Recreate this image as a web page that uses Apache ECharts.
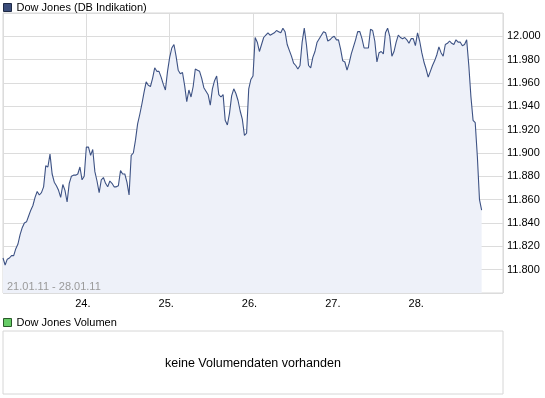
<!DOCTYPE html>
<html>
<head>
<meta charset="utf-8">
<script src="https://cdn.jsdelivr.net/npm/echarts@6/dist/echarts.min.js"></script>
<style>
    html, body { margin: 0; padding: 0; background: #fff; }
    #chart_dow { width: 545px; height: 398px; }
</style>
</head>
<body>
<div id="chart_dow"></div>
<script>
// Dow Jones 21.01.11 - 28.01.11, 10-Minuten-Werte (39 pro Handelstag)
var dayLabels = ['24.', '25.', '26.', '27.', '28.'];
var barsPerDay = 39;
var tradingDays = 6;
var prices = [
    // 21.01.
    11810, 11804, 11809, 11810, 11812, 11812, 11818, 11822, 11830, 11836,
    11840, 11841, 11846, 11851, 11855, 11862, 11867, 11864, 11866, 11871,
    11889, 11888, 11899, 11882, 11875, 11872, 11868, 11862, 11873, 11868,
    11858, 11874, 11880, 11881, 11881, 11882, 11888, 11877, 11880,
    // 24.01.
    11905, 11905, 11898, 11903, 11884, 11876, 11866, 11877, 11879, 11874,
    11871, 11876, 11874, 11871, 11871, 11872, 11885, 11882, 11882, 11875,
    11864, 11898, 11900, 11911, 11925, 11933, 11942, 11952, 11961, 11958,
    11957, 11964, 11973, 11970, 11970, 11965, 11959, 11954, 11970,
    // 25.01.
    11982, 11990, 11993, 11983, 11971, 11968, 11969, 11958, 11944, 11954,
    11948, 11957, 11972, 11971, 11970, 11964, 11956, 11953, 11950, 11941,
    11955, 11962, 11966, 11950, 11948, 11950, 11928, 11924, 11934, 11949,
    11955, 11951, 11945, 11936, 11929, 11915, 11917, 11955, 11963,
    // 26.01.
    11966, 11999, 11995, 11987, 11993, 11999, 12001, 12003, 12001, 12002,
    12003, 12005, 12004, 12003, 12007, 12004, 11993, 11988, 11983, 11977,
    11975, 11972, 11975, 11995, 12007, 11993, 11975, 11973, 11982, 11987,
    11995, 11998, 12001, 12004, 12003, 11996, 11997, 11999, 12000,
    // 27.01.
    11997, 11997, 11989, 11979, 11978, 11971, 11977, 11985, 11991, 11997,
    12004, 12004, 11998, 11990, 11990, 11990, 12006, 12005, 11996, 11978,
    11986, 11987, 11985, 12003, 12007, 12000, 11983, 11987, 11995, 12001,
    11999, 11998, 11999, 11997, 11994, 11998, 11998, 11992, 12003,
    // 28.01.
    11996, 11986, 11978, 11972, 11965, 11970, 11975, 11979, 11984, 11991,
    11986, 11983, 11993, 11994, 11996, 11994, 11993, 11997, 11995, 11995,
    11992, 11993, 11997, 11975, 11948, 11928, 11926, 11897, 11860, 11851
];
var volumes = []; // keine Volumendaten vorhanden

(function () {
    "use strict";
    var dom = document.getElementById("chart_dow");
    var myChart = echarts.init(dom);
    var font = "'Liberation Sans', Arial, sans-serif";

    var priceData = [];
    for (var i in prices) {
        priceData.push([Number(i), prices[i]]);
    }

    var option = {
        animation: false,
        textStyle: { fontFamily: font },
        title: [
            {
                text: '21.01.11 - 28.01.11',
                left: 7, top: 281, padding: 0,
                textStyle: { fontSize: 11, fontWeight: 'normal', color: '#9a9a9a', fontFamily: font }
            },
            {
                text: 'keine Volumendaten vorhanden',
                left: 165, top: 357, padding: 0,
                textStyle: { fontSize: 12.5, fontWeight: 'normal', color: '#000', fontFamily: font }
            }
        ],
        legend: [
            {
                data: [{ name: 'Dow Jones (DB Indikation)', icon: 'rect' }],
                left: 3, top: 2, padding: 0,
                itemWidth: 8, itemHeight: 8,
                selectedMode: false,
                itemStyle: { color: '#3b4d7a', borderColor: '#1f2a45', borderWidth: 1 },
                textStyle: { fontSize: 11, color: '#000', fontFamily: font }
            },
            {
                data: [{ name: 'Dow Jones Volumen', icon: 'rect' }],
                left: 3, top: 317, padding: 0,
                itemWidth: 8, itemHeight: 8,
                selectedMode: false,
                itemStyle: { color: '#66cc66', borderColor: '#2a5a2a', borderWidth: 1 },
                textStyle: { fontSize: 11, color: '#000', fontFamily: font }
            }
        ],
        grid: [
            { left: 3, right: 42, top: 13, height: 280, show: true, borderColor: '#d6d6d6', borderWidth: 1, backgroundColor: '#fff' },
            { left: 3, right: 42, top: 331, height: 63, show: true, borderColor: '#d6d6d6', borderWidth: 1, backgroundColor: '#fff' }
        ],
        xAxis: [
            {
                type: 'value',
                gridIndex: 0,
                min: 0,
                max: barsPerDay * tradingDays,
                interval: barsPerDay,
                axisLine: { show: false },
                axisTick: { show: false },
                splitLine: { show: true, lineStyle: { color: '#dcdcdc', width: 1 } },
                axisLabel: {
                    margin: 5,
                    fontSize: 11,
                    color: '#000',
                    fontFamily: font,
                    padding: [0, 7, 0, 0],
                    showMinLabel: false,
                    showMaxLabel: false,
                    formatter: function (v) {
                        var k = Math.round(v / barsPerDay) - 1;
                        return dayLabels[k] || '';
                    }
                }
            },
            { type: 'value', gridIndex: 1, show: false, min: 0, max: barsPerDay * tradingDays }
        ],
        yAxis: [
            {
                type: 'value',
                gridIndex: 0,
                position: 'right',
                min: 11780,
                max: 12020,
                interval: 20,
                axisLine: { show: false },
                axisTick: { show: false },
                splitLine: { show: true, lineStyle: { color: '#dcdcdc', width: 1 } },
                axisLabel: {
                    margin: 4,
                    fontSize: 11,
                    color: '#000',
                    fontFamily: font,
                    showMinLabel: false,
                    showMaxLabel: false,
                    formatter: function (v) {
                        return (v / 1000).toFixed(3);
                    }
                }
            },
            { type: 'value', gridIndex: 1, show: false }
        ],
        series: [
            {
                name: 'Dow Jones (DB Indikation)',
                type: 'line',
                xAxisIndex: 0,
                yAxisIndex: 0,
                symbol: 'none',
                lineStyle: { color: '#3d5284', width: 1.1 },
                itemStyle: { color: '#3b4d7a' },
                areaStyle: { color: '#eef1f9', opacity: 1, origin: 'start' },
                data: priceData
            },
            {
                name: 'Dow Jones Volumen',
                type: 'bar',
                xAxisIndex: 1,
                yAxisIndex: 1,
                itemStyle: { color: '#66cc66' },
                data: volumes
            }
        ]
    };

    myChart.setOption(option, true);
})();
</script>
</body>
</html>
